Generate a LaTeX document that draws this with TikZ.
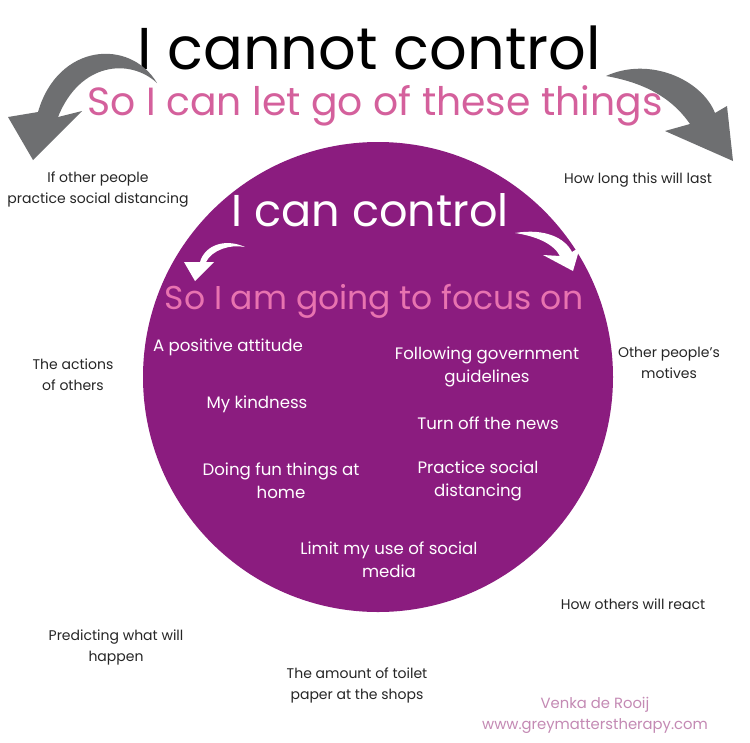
\documentclass[tikz,border=0pt]{standalone}
\usepackage{fontspec}
\setmainfont{Poppins}
\definecolor{circlepurple}{HTML}{8B1C7F}
\definecolor{titlepink}{HTML}{D4609C}
\definecolor{focuspink}{HTML}{E873B0}
\definecolor{arrowgrey}{HTML}{6E6F71}
\definecolor{signmauve}{HTML}{C48AB4}
\begin{document}
\begin{tikzpicture}[x=1pt,y=-1pt, every node/.style={font=\fontsize{14}{21}\selectfont}]
  \tikzstyle{item}=[align=center,inner sep=0pt,text=black!85]
  \tikzstyle{initem}=[align=center,inner sep=0pt,text=white,font=\fontsize{16.6}{23}\selectfont]
  \useasboundingbox (0,0) rectangle (750,742);
  \fill[white] (0,0) rectangle (750,742);
  % the circle
  \fill[circlepurple] (378,377) circle (235);
  % titles
  \node[inner sep=0pt,font=\fontsize{59}{59}\selectfont] (cannot) at (369,48) {I cannot control};
  \node[inner sep=0pt,text=titlepink,font=\fontsize{39.3}{39}\selectfont] (letgo) at (375,106) {So I can let go of these things};
  \node[inner sep=0pt,text=white,font=\fontsize{44.6}{45}\selectfont] (can) at (370,210) {I can control};
  \node[inner sep=0pt,text=focuspink,font=\fontsize{33}{33}\selectfont] (focus) at (374,301) {So I am going to focus on};
  % grey arrows
  \fill[arrowgrey] (157,83) .. controls (130,38) and (58,43) .. (38,112) -- (8,117) -- (33,160) -- (82,111) -- (58,117)
    .. controls (80,62) and (130,58) .. (157,83) -- cycle;
  \fill[arrowgrey] (606,76) .. controls (650,56) and (702,80) .. (715,113) -- (727,106) -- (733,161) -- (665,131) -- (690,124)
    .. controls (670,95) and (640,82) .. (606,76) -- cycle;
  % white arrows
  \fill[white] (245,247) .. controls (225,238) and (205,245) .. (200,262) -- (184,262) -- (195,281) -- (214,262) -- (206,262)
    .. controls (212,250) and (230,244) .. (245,247) -- cycle;
  \fill[white] (515,233) .. controls (545,228) and (565,238) .. (572,252) -- (580,247) -- (573,271) -- (543,255) -- (560,256)
    .. controls (553,243) and (535,236) .. (515,233) -- cycle;
  % things I cannot control
  \node[item] (others) at (98,190) {If other people\\practice social distancing};
  \node[item] (howlong) at (638,180) {How long this will last};
  \node[item] (actions) at (73,375) {The actions\\of others};
  \node[item] (motives) at (669,363) {Other people's\\motives};
  \node[item] (react) at (633,604) {How others will react};
  \node[item] (predict) at (116,647) {Predicting what will\\happen};
  \node[item] (toilet) at (357,685) {The amount of toilet\\paper at the shops};
  % things I can control
  \node[initem] (attitude) at (228,347) {A positive attitude};
  \node[initem] (govt) at (487,367) {Following government\\guidelines};
  \node[initem] (kind) at (257,404) {My kindness};
  \node[initem] (news) at (488,423) {Turn off the news};
  \node[initem] (fun) at (281,481) {Doing fun things at\\home};
  \node[initem] (distance) at (478,481) {Practice social\\distancing};
  \node[initem] (media) at (389,560) {Limit my use of social\\media};
  % signature
  \node[item,text=signmauve,font=\fontsize{14.8}{21}\selectfont] (sign) at (595,715) {Venka de Rooij\\www.greymatterstherapy.com};
\end{tikzpicture}
\end{document}
